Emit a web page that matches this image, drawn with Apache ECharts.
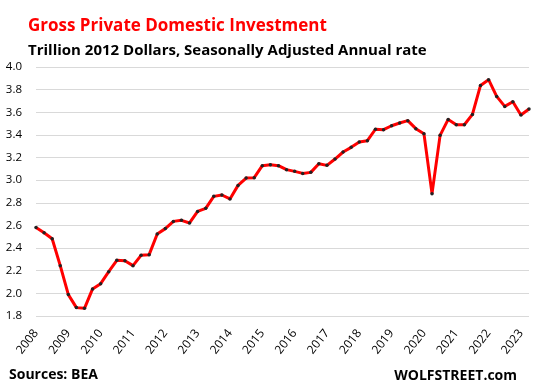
<!DOCTYPE html>
<html>
<head>
<meta charset="utf-8">
<script src="https://cdn.jsdelivr.net/npm/echarts@6/dist/echarts.min.js"></script>
<style>html,body{margin:0;padding:0;background:#fff}#c{width:537px;height:388px}</style>
</head>
<body>
<div id="c"></div>
<script>
var years = ['2008','2009','2010','2011','2012','2013','2014','2015','2016','2017','2018','2019','2020','2021','2022','2023'];
var quarters = [];
years.forEach(function(y){ ['Q1','Q2','Q3','Q4'].forEach(function(q){ quarters.push(y + q); }); });
quarters = quarters.slice(0, 62);
var investment = [
  2.583, 2.536, 2.483, 2.245,
  1.989, 1.874, 1.868, 2.039,
  2.086, 2.192, 2.292, 2.289,
  2.245, 2.336, 2.342, 2.525,
  2.572, 2.636, 2.645, 2.622,
  2.724, 2.751, 2.857, 2.869,
  2.834, 2.954, 3.019, 3.022,
  3.128, 3.137, 3.128, 3.093,
  3.078, 3.060, 3.069, 3.146,
  3.131, 3.187, 3.249, 3.290,
  3.337, 3.349, 3.450, 3.446,
  3.481, 3.505, 3.526, 3.455,
  3.411, 2.881, 3.396, 3.537,
  3.490, 3.490, 3.581, 3.837,
  3.888, 3.740, 3.652, 3.693,
  3.576, 3.629
];
var chart = echarts.init(document.getElementById('c'));
chart.setOption({
  animation: false,
  backgroundColor: '#ffffff',
  title: [
    { text: 'Gross Private Domestic Investment', left: 23, top: 13,
      textStyle: { color: '#ff0000', fontSize: 17, fontWeight: 'bold', fontFamily: 'Open Sans' } },
    { text: 'Trillion 2012 Dollars, Seasonally Adjusted Annual rate', left: 23, top: 38,
      textStyle: { color: '#000000', fontSize: 15, fontWeight: 'bold', fontFamily: 'Open Sans' } },
    { text: 'Sources: BEA', left: 4, top: 363,
      textStyle: { color: '#000000', fontSize: 14, fontWeight: 'bold', fontFamily: 'Open Sans' } },
    { text: 'WOLFSTREET.com', right: 15, top: 364,
      textStyle: { color: '#000000', fontSize: 14, fontWeight: 'bold', fontFamily: 'Open Sans' } }
  ],
  grid: { left: 36, right: 8, top: 67, bottom: 72 },
  xAxis: {
    type: 'category',
    data: quarters,
    boundaryGap: false,
    axisLine: { show: false },
    axisTick: { show: false },
    axisLabel: {
      interval: 3,
      rotate: 52,
      margin: 15,
      color: '#000000',
      fontSize: 12,
      fontFamily: 'Open Sans',
      formatter: function(v){ return v.slice(0,4); }
    },
    splitLine: { show: false }
  },
  yAxis: {
    type: 'value',
    min: 1.8,
    max: 4.0,
    interval: 0.2,
    axisLine: { show: false },
    axisTick: { show: false },
    axisLabel: {
      color: '#000000', fontSize: 11.5, fontFamily: 'Open Sans', margin: 14,
      formatter: function(v){ return v.toFixed(1); }
    },
    splitLine: { lineStyle: { color: '#d9d9d9', width: 1 } }
  },
  series: [{
    type: 'line',
    data: investment,
    lineStyle: { color: '#ff0000', width: 3 },
    symbol: 'circle',
    symbolSize: 3.5,
    itemStyle: { color: '#222222', borderWidth: 0 },
    showAllSymbol: true
  }]
});
</script>
</body>
</html>
